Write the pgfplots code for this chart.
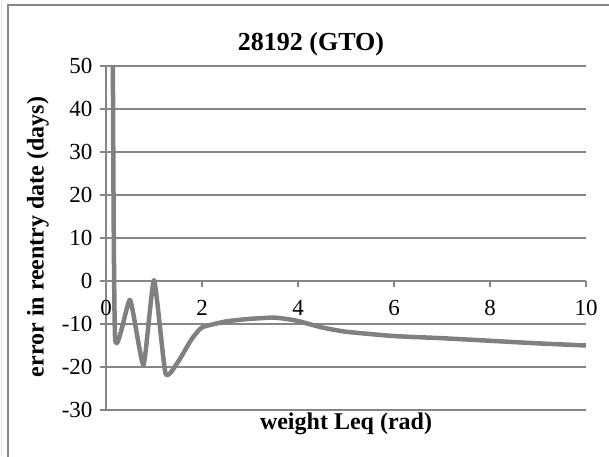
\documentclass[border=0pt]{standalone}
\usepackage{pgfplots}
\pgfplotsset{compat=1.18}
\usepackage{fontspec}
\setmainfont{Liberation Serif}

\definecolor{gridgray}{RGB}{134,134,134}
\definecolor{linegray}{RGB}{128,128,128}

% error in reentry date vs. weight Leq
\pgfplotstableread{
x y
0.14 60
0.19 -13.3
0.50 -4.4
0.78 -19.5
1.00 0.2
1.24 -21.5
1.50 -18.8
1.78 -13.6
2.00 -10.8
2.50 -9.4
3.00 -8.8
3.50 -8.5
3.80 -8.9
4.00 -9.3
4.50 -10.8
5.00 -11.8
6.00 -12.8
7.00 -13.3
8.00 -13.9
9.00 -14.5
10.00 -15.0
}\errdata

\begin{document}
\begin{tikzpicture}[x=1pt,y=1pt]
\useasboundingbox (0,0) rectangle (609,456);
% chart frame
\draw[gray!25, line width=1pt] (1,0) -- (1,456);
\draw[gridgray, line width=1.2pt] (8,-5) -- (8,451) -- (615,451);
\begin{axis}[
  at={(106pt,46pt)}, anchor=south west,
  scale only axis, width=480pt, height=344pt,
  xmin=0, xmax=10, ymin=-30, ymax=50,
  axis x line*=middle, axis y line*=left,
  hide obscured x ticks=false,
  axis line style={gridgray, line width=1.2pt},
  xtick={0,2,...,10}, ytick={-30,-20,...,50},
  tick align=outside,
  major tick length=6pt,
  tick style={gridgray, line width=1.2pt},
  ymajorgrids,
  grid style={gridgray, line width=1.2pt},
  /pgf/number format/assume math mode=true,
  tick label style={font=\fontsize{23}{23}\selectfont},
  yticklabel style={anchor=east, xshift=-4pt},
  xticklabel style={anchor=north, yshift=-10pt},
  clip mode=individual,
]
\addplot[linegray, line width=4.5pt, smooth, tension=0.3, line join=round] table[x=x, y=y] {\errdata};
\node[font=\fontsize{26}{26}\selectfont\bfseries, anchor=base] at (axis description cs:0.427,1.0465) {28192 (GTO)};
\node[font=\fontsize{24}{24}\selectfont\bfseries, anchor=base] at (axis description cs:0.5,-0.058) {weight Leq (rad)};
\node[font=\fontsize{24}{24}\selectfont\bfseries, anchor=center, rotate=90] at (axis description cs:-0.1417,0.503) {error in reentry date (days)};
\end{axis}
\end{tikzpicture}
\end{document}
